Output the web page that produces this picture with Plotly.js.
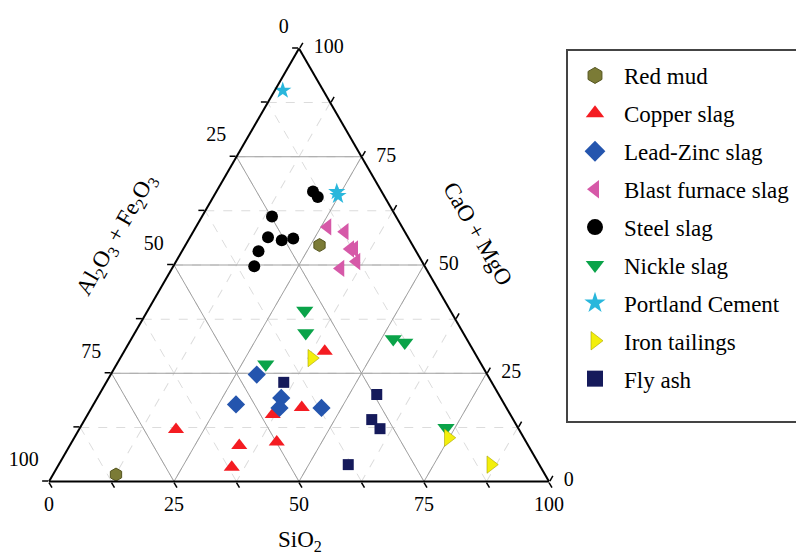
<!DOCTYPE html>
<html>
<head>
<meta charset="utf-8">
<script src="https://cdn.plot.ly/plotly-3.0.1.min.js"></script>
<style>html,body{margin:0;padding:0;background:#fff;}#chart{width:796px;height:554px;}</style>
</head>
<body>
<div id="chart"></div>
<script>
// Components: a = CaO + MgO (top), b = Al2O3 + Fe2O3 (bottom-left), c = SiO2 (bottom-right), in %
const seriesNames = ['Red mud','Copper slag','Lead-Zinc slag','Blast furnace slag','Steel slag','Nickle slag','Portland Cement','Iron tailings','Fly ash'];

const redMudCaO = [54.6, 1.6];
const redMudAl  = [18.6, 85.8];
const redMudSi  = [26.8, 12.6];

const copperCaO = [12.0, 8.3, 3.3, 15.5, 9.1, 17.1, 30.1];
const copperAl  = [68.6, 57.8, 61.8, 47.5, 49.9, 40.9, 29.8];
const copperSi  = [19.4, 33.9, 34.9, 37.0, 41.0, 42.0, 40.1];

const leadZincCaO = [24.7, 17.8, 19.3, 17.0, 17.0];
const leadZincAl  = [46.1, 53.7, 43.9, 45.4, 37.0];
const leadZincSi  = [29.2, 28.5, 36.8, 37.6, 46.0];

const blastCaO = [58.8, 57.7, 53.7, 53.7, 50.8, 49.2];
const blastAl  = [14.9, 12.0, 12.9, 12.1, 13.1, 17.1];
const blastSi  = [26.3, 30.3, 33.4, 34.2, 36.1, 33.7];

const steelCaO = [67.0, 65.7, 61.2, 56.4, 55.7, 56.1, 53.2, 49.7];
const steelAl  = [13.7, 13.4, 24.8, 28.0, 25.6, 23.1, 31.5, 34.1];
const steelSi  = [19.3, 20.9, 14.0, 15.6, 18.7, 20.8, 15.3, 16.2];

const nickelCaO = [39.5, 34.3, 32.9, 32.1, 27.1, 12.4];
const nickelAl  = [29.1, 31.5, 14.7, 12.8, 43.1, 14.4];
const nickelSi  = [31.4, 34.2, 52.4, 55.1, 29.8, 73.2];

const cementCaO = [90.3, 66.9, 66.0];
const cementAl  = [8.1, 9.0, 9.2];
const cementSi  = [1.6, 24.1, 24.8];

const ironCaO = [28.5, 10.1, 3.9];
const ironAl  = [33.2, 15.1, 9.7];
const ironSi  = [38.3, 74.8, 86.4];

const flyAshCaO = [22.9, 20.1, 14.3, 12.2, 3.9];
const flyAshAl  = [41.6, 24.4, 28.3, 27.7, 38.2];
const flyAshSi  = [35.5, 55.5, 57.4, 60.1, 57.9];

// Tick values (percent) and their labels on each edge
const tickValues = [0, 25, 50, 75, 100];
const minorTicks = [12.5, 37.5, 62.5, 87.5];
const tickLabels = ['0', '25', '50', '75', '100'];
const gridLevels = [25, 50, 75];

const serif = 'Liberation Serif, Times New Roman, serif';

function tickAxis() {
  return {
    tickmode: 'array',
    tickvals: tickValues.concat(minorTicks),
    showticklabels: false,
    ticks: 'outside', ticklen: 6, tickwidth: 1.5, tickcolor: '#000',
    showline: true, linecolor: '#000', linewidth: 2,
    showgrid: true, gridcolor: '#dcdcdc', gridwidth: 1, griddash: 'dash',
    title: {text: ''}
  };
}

// major grid lines built from the grid levels
const gA = [], gB = [], gC = [];
gridLevels.forEach(v => {
  gA.push(v, v, null);          gB.push(100 - v, 0, null);     gC.push(0, 100 - v, null);
  gA.push(100 - v, 0, null);    gB.push(v, v, null);           gC.push(0, 100 - v, null);
  gA.push(100 - v, 0, null);    gB.push(0, 100 - v, null);     gC.push(v, v, null);
});
const gridTrace = {
  type: 'scatterternary', mode: 'lines', a: gA, b: gB, c: gC,
  line: {color: '#a0a0a0', width: 1}, showlegend: false, hoverinfo: 'skip', connectgaps: false
};

// Tick label traces, placed at the edge points of each component's scale
function labelTrace(a, b, c, pos, offsetSize) {
  return {
    type: 'scatterternary', mode: 'markers+text', a: a, b: b, c: c,
    text: tickLabels, textposition: pos,
    textfont: {family: serif, size: 20, color: '#000'},
    marker: {size: offsetSize, opacity: 0, color: '#fff'},
    showlegend: false, hoverinfo: 'skip', cliponaxis: false
  };
}
const zeros = tickValues.map(() => 0);
const compl = tickValues.map(v => 100 - v);
// left edge: Al2O3 + Fe2O3 value (c = 0)
const leftLabels = labelTrace(compl, tickValues, zeros, 'top left', 15);
// bottom edge: SiO2 value (a = 0)
const bottomLabels = labelTrace(zeros, compl, tickValues, 'bottom center', 22);
// right edge: CaO + MgO value (b = 0)
const rightLabels = labelTrace(tickValues, zeros, compl, 'middle right', 22);

function pts(name, a, b, c, symbol, color, size, lineColor, lineWidth) {
  return {
    type: 'scatterternary', mode: 'markers', name: name, showlegend: false,
    a: a, b: b, c: c,
    marker: {symbol: symbol, color: color, size: size,
             line: {color: lineColor || color, width: lineWidth || 0}},
    cliponaxis: false
  };
}
function legendEntry(name, symbol, color, lineColor, lineWidth) {
  return {
    type: 'scatterternary', mode: 'markers', name: name, legendgroup: name,
    a: [null], b: [null], c: [null],
    marker: {symbol: symbol, color: color, size: 20,
             line: {color: lineColor || color, width: lineWidth || 0}},
    hoverinfo: 'skip'
  };
}

const styles = [
  ['hexagon', '#7b7b36', 13, '#55551f', 1],
  ['triangle-up', '#f41c22', 14],
  ['diamond', '#2455ae', 14],
  ['triangle-left', '#d659a8', 15],
  ['circle', '#000000', 12],
  ['triangle-down', '#0aa349', 15],
  ['star', '#29b7dc', 13],
  ['triangle-right', '#f3ef0c', 15, '#a9a200', 0.6],
  ['square', '#151a5b', 11]
];
const seriesA = [redMudCaO, copperCaO, leadZincCaO, blastCaO, steelCaO, nickelCaO, cementCaO, ironCaO, flyAshCaO];
const seriesB = [redMudAl, copperAl, leadZincAl, blastAl, steelAl, nickelAl, cementAl, ironAl, flyAshAl];
const seriesC = [redMudSi, copperSi, leadZincSi, blastSi, steelSi, nickelSi, cementSi, ironSi, flyAshSi];

const data = [gridTrace, leftLabels, bottomLabels, rightLabels];
seriesNames.forEach((n, i) => {
  const s = styles[i];
  data.push(pts(n, seriesA[i], seriesB[i], seriesC[i], s[0], s[1], s[2], s[3], s[4]));
});
seriesNames.forEach((n, i) => {
  const s = styles[i];
  data.push(legendEntry(n, s[0], s[1], s[3], s[4]));
});

const W = 796, H = 554;
const layout = {
  width: W, height: H,
  margin: {l: 0, r: 0, t: 0, b: 0},
  paper_bgcolor: '#fff',
  showlegend: true,
  font: {family: serif, color: '#000'},
  ternary: {
    sum: 100,
    domain: {x: [49 / W, 549 / W], y: [(H - 482) / H, (H - 48) / H]},
    bgcolor: '#fff',
    aaxis: tickAxis(),
    baxis: tickAxis(),
    caxis: tickAxis()
  },
  legend: {
    x: 566 / W, xanchor: 'left', y: (H - 54) / H, yanchor: 'top',
    font: {family: serif, size: 23, color: '#000'},
    bgcolor: 'rgba(0,0,0,0)', borderwidth: 0,
    itemwidth: 48,
    traceorder: 'grouped', tracegroupgap: 5
  },
  shapes: [{
    type: 'rect', xref: 'paper', yref: 'paper',
    x0: 567 / W, x1: 1.02, y0: (H - 422) / H, y1: (H - 50) / H,
    line: {color: '#444', width: 2}, fillcolor: 'rgba(0,0,0,0)'
  }],
  annotations: [
    {text: 'Al<sub>2</sub>O<sub>3</sub> + Fe<sub>2</sub>O<sub>3</sub>', xref: 'paper', yref: 'paper',
     x: 117 / W, y: (H - 235) / H, xanchor: 'center', yanchor: 'middle', showarrow: false, textangle: -60,
     font: {family: serif, size: 23, color: '#000'}},
    {text: 'CaO + MgO', xref: 'paper', yref: 'paper',
     x: 478 / W, y: (H - 233) / H, xanchor: 'center', yanchor: 'middle', showarrow: false, textangle: 60,
     font: {family: serif, size: 23, color: '#000'}},
    {text: 'SiO<sub>2</sub>', xref: 'paper', yref: 'paper',
     x: 300 / W, y: (H - 541) / H, xanchor: 'center', yanchor: 'middle', showarrow: false,
     font: {family: serif, size: 23, color: '#000'}}
  ]
};

Plotly.newPlot('chart', data, layout, {displayModeBar: false, staticPlot: true});
</script>
</body>
</html>
